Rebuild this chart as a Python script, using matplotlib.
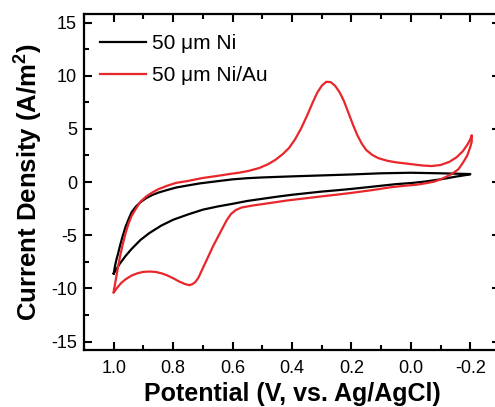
import numpy as np
import matplotlib
matplotlib.use('Agg')
import matplotlib.pyplot as plt
from matplotlib.ticker import MultipleLocator

plt.rcParams['font.family'] = ['Liberation Sans', 'DejaVu Sans']
plt.rcParams['axes.unicode_minus'] = False
plt.rcParams['mathtext.fontset'] = 'custom'
plt.rcParams['mathtext.rm'] = 'Liberation Sans'
plt.rcParams['mathtext.bf'] = 'Liberation Sans:bold'

# 50 um Ni: forward scan (1.0 -> -0.2) then back (-0.2 -> 1.0)
ni_v = [1.0, 0.995, 0.99, 0.985, 0.978, 0.97, 0.96, 0.95, 0.94, 0.925,
        0.91, 0.89, 0.87, 0.85, 0.82, 0.79, 0.75, 0.71, 0.65, 0.6,
        0.55, 0.5, 0.45, 0.4, 0.3, 0.2, 0.1, 0.0, -0.1, -0.2,
        -0.2, -0.15, -0.1, -0.05, 0.0, 0.05, 0.1, 0.15, 0.2, 0.25,
        0.3, 0.35, 0.4, 0.45, 0.5, 0.55, 0.6, 0.65, 0.7, 0.75,
        0.8, 0.84, 0.88, 0.91, 0.94, 0.96, 0.98, 0.993, 1.0]
ni_j = [-8.6, -7.8, -7.2, -6.7, -5.9, -5.1, -4.2, -3.5, -2.85, -2.3,
        -1.9, -1.5, -1.22, -1.0, -0.75, -0.52, -0.32, -0.13, 0.08, 0.25,
        0.36, 0.43, 0.48, 0.53, 0.62, 0.71, 0.82, 0.87, 0.82, 0.75,
        0.72, 0.5, 0.25, 0.05, -0.1, -0.2, -0.35, -0.5, -0.65, -0.78,
        -0.9, -1.05, -1.2, -1.38, -1.58, -1.78, -2.05, -2.3, -2.6, -3.05,
        -3.55, -4.1, -4.8, -5.45, -6.3, -6.95, -7.7, -8.3, -8.6]

# 50 um Ni/Au
niau_v = [1.0, 0.995, 0.99, 0.985, 0.978, 0.97, 0.96, 0.95, 0.94, 0.925,
          0.91, 0.89, 0.87, 0.85, 0.82, 0.79, 0.75, 0.7, 0.65, 0.611,
          0.577, 0.545, 0.51, 0.48, 0.455, 0.43, 0.41, 0.39, 0.37, 0.35,
          0.33, 0.315, 0.3, 0.285, 0.27, 0.255, 0.24, 0.225, 0.21, 0.195,
          0.18, 0.165, 0.15, 0.13, 0.11, 0.08, 0.05, 0.02, -0.01, -0.04,
          -0.07, -0.1, -0.13, -0.155, -0.175, -0.19, -0.2, -0.205,
          -0.205, -0.2, -0.19, -0.175, -0.16, -0.14, -0.12, -0.1, -0.08, -0.05,
          -0.02, 0.02, 0.07, 0.12, 0.18, 0.24, 0.3, 0.36, 0.42, 0.48,
          0.53, 0.57, 0.59, 0.605, 0.62, 0.635, 0.65, 0.665, 0.68, 0.695,
          0.705, 0.715, 0.725, 0.735, 0.745, 0.76, 0.78, 0.8, 0.82, 0.84,
          0.86, 0.88, 0.9, 0.92, 0.94, 0.96, 0.975, 0.99, 1.0]
niau_j = [-10.3, -9.5, -8.7, -7.9, -6.9, -5.9, -4.8, -3.9, -3.2, -2.5,
          -1.85, -1.35, -0.98, -0.68, -0.35, -0.08, 0.1, 0.38, 0.58, 0.75,
          0.88, 1.05, 1.32, 1.68, 2.1, 2.65, 3.2, 4.0, 5.0, 6.2,
          7.5, 8.4, 9.05, 9.42, 9.4, 9.05, 8.45, 7.6, 6.5, 5.4,
          4.4, 3.6, 3.0, 2.55, 2.25, 2.0, 1.85, 1.75, 1.65, 1.55,
          1.5, 1.6, 1.9, 2.35, 2.9, 3.5, 4.0, 4.4,
          3.8, 3.3, 2.5, 1.8, 1.2, 0.8, 0.5, 0.25, 0.05, -0.12,
          -0.25, -0.35, -0.5, -0.72, -0.95, -1.16, -1.35, -1.55, -1.75, -2.0,
          -2.2, -2.4, -2.65, -3.0, -3.6, -4.4, -5.2, -6.0, -6.9, -7.8,
          -8.4, -9.0, -9.4, -9.6, -9.7, -9.6, -9.35, -9.05, -8.78, -8.58,
          -8.45, -8.42, -8.45, -8.58, -8.8, -9.15, -9.5, -10.0, -10.4]

fig = plt.figure(figsize=(4.95, 4.07), dpi=100)
ax = fig.add_axes([0.1697, 0.140, 0.8404, 0.8256])

ax.plot(ni_v, ni_j, color='black', lw=1.6, label='50 \u03bcm Ni')
ax.plot(niau_v, niau_j, color='#e8262b', lw=1.6, label='50 \u03bcm Ni/Au')

ax.set_xlim(1.1, -0.3)
ax.set_ylim(-15.8, 15.8)
ax.xaxis.set_minor_locator(MultipleLocator(0.1))
ax.yaxis.set_major_locator(MultipleLocator(5))
ax.yaxis.set_minor_locator(MultipleLocator(2.5))
ax.set_xticks([1.0, 0.8, 0.6, 0.4, 0.2, 0.0, -0.2])
ax.set_xticklabels(['1.0', '0.8', '0.6', '0.4', '0.2', '0.0', '-0.2'])

ax.tick_params(which='both', direction='in', top=True, right=True, width=1.5,
               labelsize=13)
ax.tick_params(which='major', length=6)
ax.tick_params(which='minor', length=3.5)
ax.tick_params(axis='x', pad=7)
ax.tick_params(axis='y', pad=5)
for s in ax.spines.values():
    s.set_linewidth(1.6)
# the right edge of the frame falls outside the picture in the original
ax.spines['right'].set_visible(False)

ax.set_xlabel('Potential (V, vs. Ag/AgCl)', fontsize=18, fontweight='bold',
              labelpad=4)
ax.set_ylabel(r'Current Density (A/m$^\mathbf{2}$)', fontsize=18.5,
              fontweight='bold', labelpad=5)

ax.legend(loc='upper left', bbox_to_anchor=(0.038, 0.94), frameon=False,
          fontsize=15, borderpad=0, borderaxespad=0, handlelength=2.2,
          handletextpad=0.3, labelspacing=0.62)

fig.savefig('out.png', dpi=100)
